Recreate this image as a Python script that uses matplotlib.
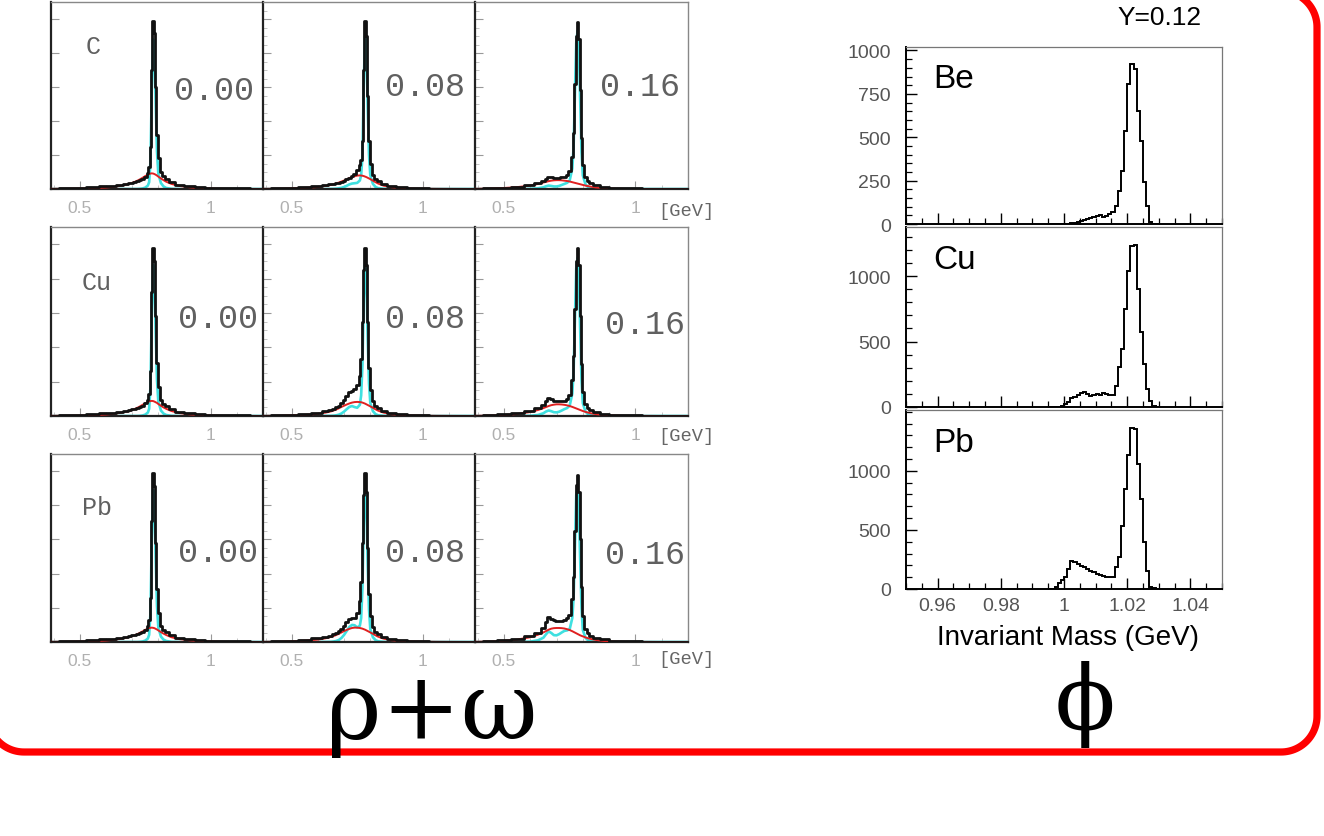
import matplotlib
matplotlib.use('Agg')
import matplotlib.pyplot as plt
from matplotlib.ticker import MultipleLocator
import numpy as np

W, H = 1324, 837

# ---- rho/omega panels: mass grid (GeV) and curves (arbitrary units, peak ~100)
mass = [0.39, 0.45, 0.50, 0.55, 0.60, 0.63, 0.65, 0.66, 0.67, 0.68, 0.69, 0.70, 0.71,
        0.72, 0.73, 0.74, 0.75, 0.76, 0.765, 0.77, 0.775, 0.78, 0.785, 0.79, 0.795,
        0.80, 0.81, 0.82, 0.83, 0.85, 0.88, 0.92, 0.96, 1.00, 1.05, 1.10, 1.20]

# Y = 0.00
C000_black = [0.2,0.4,0.7,1.0,1.5,1.9,2.3,2.5,2.8,3.1,3.4,3.8,4.2,4.7,5.3,6.0,7.2,9.5,13,25,70,99,92,60,32,18,10,7.5,5.8,4.0,2.6,1.5,1.0,0.6,0.4,0.3,0.2]
C000_red = [0.1,0.2,0.3,0.5,0.9,1.3,1.7,2.0,2.3,2.7,3.1,3.6,4.2,4.9,5.7,6.6,7.6,8.4,8.8,9.1,9.2,9.1,8.8,8.4,7.9,7.3,6.2,5.2,4.3,3.0,1.8,1.0,0.6,0.3,0.15,0.1,0.0]
C000_cyan = [0,0,0,0,0,0,0,0,0,0,0,0,0,0,0.1,0.3,0.8,2.0,4.0,16,58,88,82,50,22,9,3.5,1.5,0.6,0.1,0,0,0,0,0,0,0]

Cu000_black = [0.2,0.4,0.7,1.0,1.6,2.0,2.4,2.6,2.9,3.2,3.5,3.9,4.3,4.8,5.4,6.1,7.3,9.6,13,26,72,98,90,58,31,17,9.5,7.2,5.6,3.9,2.5,1.5,1.0,0.6,0.4,0.3,0.2]
Cu000_red = [0.1,0.2,0.3,0.5,0.9,1.3,1.7,2.0,2.3,2.6,3.0,3.5,4.1,4.8,5.6,6.5,7.4,8.1,8.5,8.7,8.8,8.7,8.4,8.0,7.6,7.0,6.0,5.0,4.2,2.9,1.7,1.0,0.6,0.3,0.15,0.1,0.0]
Cu000_cyan = [0,0,0,0,0,0,0,0,0,0,0,0,0,0,0.1,0.3,0.8,2.0,4.2,17,60,88,80,48,21,8.5,3.2,1.4,0.6,0.1,0,0,0,0,0,0,0]

Pb000_black = [0.2,0.4,0.7,1.0,1.6,2.0,2.4,2.6,2.9,3.2,3.5,3.9,4.3,4.8,5.4,6.1,7.2,9.4,13,26,71,99,91,58,31,17,9.5,7.2,5.6,3.9,2.5,1.5,1.0,0.6,0.4,0.3,0.2]
Pb000_red = [0.1,0.2,0.3,0.5,0.9,1.3,1.7,2.0,2.3,2.6,3.0,3.4,4.0,4.6,5.4,6.2,7.1,7.8,8.1,8.3,8.4,8.3,8.1,7.7,7.3,6.8,5.8,4.9,4.1,2.8,1.7,1.0,0.6,0.3,0.15,0.1,0.0]
Pb000_cyan = [0,0,0,0,0,0,0,0,0,0,0,0,0,0,0.1,0.3,0.8,2.0,4.2,17,60,89,81,48,21,8.5,3.2,1.4,0.6,0.1,0,0,0,0,0,0,0]

# Y = 0.08
C008_black = [0.2,0.4,0.7,1.1,1.7,2.2,2.7,3.0,3.4,3.8,4.3,4.9,5.6,6.5,7.6,9.0,11,14,17,28,70,99,90,55,28,15,8.5,6.0,4.5,3.0,1.8,1.0,0.6,0.4,0.25,0.2,0.1]
C008_red = [0.1,0.2,0.4,0.7,1.2,1.8,2.4,2.8,3.3,3.8,4.4,5.0,5.7,6.4,7.0,7.5,7.9,8.0,7.9,7.8,7.6,7.3,7.0,6.6,6.2,5.8,4.9,4.0,3.2,2.0,1.1,0.6,0.3,0.2,0.1,0.05,0.0]
C008_cyan = [0,0,0,0,0,0,0.05,0.1,0.2,0.4,0.7,1.2,1.9,2.7,3.2,3.4,3.6,5.0,8,20,62,90,82,48,20,8,3,1.2,0.5,0.1,0,0,0,0,0,0,0]

Cu008_black = [0.2,0.4,0.8,1.3,2.0,2.8,3.6,4.2,5.0,6.0,7.5,9.2,11.5,13.8,14.8,16.0,18,23,33,55,85,98,88,55,28,15,8.5,6.0,4.5,3.0,1.8,1.0,0.6,0.4,0.25,0.2,0.1]
Cu008_red = [0.1,0.2,0.4,0.7,1.3,2.0,2.7,3.2,3.8,4.5,5.3,6.0,6.7,7.3,7.8,8.1,8.2,8.1,8.0,7.8,7.5,7.2,6.8,6.4,6.0,5.6,4.8,3.9,3.1,2.0,1.1,0.6,0.3,0.2,0.1,0.05,0.0]
Cu008_cyan = [0,0,0,0,0,0.05,0.1,0.2,0.4,0.8,1.5,2.6,4.0,5.3,5.8,5.2,4.8,6.5,12,30,68,88,78,45,19,7.5,2.8,1.1,0.4,0.1,0,0,0,0,0,0,0]

Pb008_black = [0.2,0.4,0.8,1.3,2.1,2.9,3.8,4.4,5.2,6.3,7.8,9.5,11.8,13.3,13.8,14.3,17,24,35,58,86,99,88,55,28,15,8.5,6.0,4.5,3.0,1.8,1.0,0.6,0.4,0.25,0.2,0.1]
Pb008_red = [0.1,0.2,0.4,0.8,1.4,2.2,3.0,3.5,4.1,4.8,5.6,6.4,7.1,7.7,8.2,8.4,8.4,8.2,8.0,7.8,7.5,7.2,6.8,6.4,6.0,5.6,4.8,3.9,3.1,2.0,1.1,0.6,0.3,0.2,0.1,0.05,0.0]
Pb008_cyan = [0,0,0,0,0,0.05,0.1,0.3,0.6,1.2,2.4,4.2,6.5,8.8,10.0,9.8,8.5,9.5,14,32,70,90,78,45,19,7.5,2.8,1.1,0.4,0.1,0,0,0,0,0,0,0]

# Y = 0.16
C016_black = [0.2,0.4,0.8,1.4,2.5,3.7,5.0,6.0,7.0,6.8,6.6,6.5,6.6,6.8,7.2,8.2,10.5,19,33,62,90,98,88,58,30,14,7.0,4.8,3.6,2.4,1.4,0.8,0.5,0.3,0.2,0.1,0.1]
C016_red = [0.1,0.3,0.6,1.1,2.0,3.0,3.8,4.2,4.6,4.9,5.1,5.2,5.2,5.1,4.9,4.7,4.4,4.0,3.8,3.6,3.4,3.2,3.0,2.8,2.6,2.4,2.0,1.7,1.4,0.9,0.5,0.25,0.1,0.05,0,0,0]
C016_cyan = [0,0,0,0,0.1,0.4,1.0,1.6,2.0,1.8,1.5,1.5,1.8,2.4,3.0,3.6,5.0,12,25,56,86,93,82,52,22,8,2.8,1.1,0.4,0.1,0,0,0,0,0,0,0]

Cu016_black = [0.2,0.5,0.9,1.6,2.9,4.6,6.5,8.5,10.5,9.8,9.0,8.6,8.5,8.6,8.9,10.0,12.5,21,35,62,90,98,88,58,30,14,7.0,4.8,3.6,2.4,1.4,0.8,0.5,0.3,0.2,0.1,0.1]
Cu016_red = [0.1,0.3,0.6,1.2,2.3,3.5,4.6,5.2,5.8,6.3,6.6,6.8,6.8,6.7,6.5,6.2,5.8,5.3,5.0,4.7,4.4,4.1,3.8,3.5,3.2,2.9,2.4,2.0,1.6,1.1,0.6,0.3,0.15,0.1,0.05,0,0]
Cu016_cyan = [0,0,0,0,0.1,0.6,1.6,2.6,3.2,2.8,2.2,2.1,2.5,3.2,4.0,4.6,6.0,13,26,56,86,92,80,50,21,7.5,2.6,1.0,0.4,0.1,0,0,0,0,0,0,0]

Pb016_black = [0.2,0.5,1.0,1.8,3.4,5.5,8.0,11.5,14.5,13.5,12.6,12.0,12.0,12.2,12.6,14.0,16.0,25,38,65,92,98,88,60,32,15,7.5,5.0,3.8,2.5,1.5,0.8,0.5,0.3,0.2,0.1,0.1]
Pb016_red = [0.1,0.3,0.7,1.4,2.8,4.3,5.6,6.4,7.2,7.8,8.1,8.2,8.2,8.1,7.9,7.5,7.0,6.3,5.9,5.5,5.1,4.7,4.3,3.9,3.6,3.3,2.7,2.2,1.8,1.2,0.6,0.3,0.15,0.1,0.05,0,0]
Pb016_cyan = [0,0,0,0,0.2,1.0,2.5,4.5,6.2,5.3,4.0,3.9,4.6,5.6,6.5,6.8,7.5,14,26,55,86,90,78,48,20,7.0,2.5,1.0,0.4,0.1,0,0,0,0,0,0,0]

targets = ['C', 'Cu', 'Pb']
rapidity = ['0.00', '0.08', '0.16']

# ---- phi panels: 1 MeV bins starting at 0.995 GeV, counts per bin
phi_start = 0.995
Be_counts = [0,0,0,0,0,0,0, 5,8,12,18,22,28,33,38,44,53,40,48,57,67,105,192,307,538,808,923,895,654,481,240,105,10,0,0]
Cu_counts = [0,0,0,0, 5,20,40,65,80,95,110,112,100,86,90,99,95,107,100,92,95,163,305,443,748,1040,1231,1235,901,570,328,137,48,5,0]
Pb_counts = [0,3,20,50,76,105,170,240,232,215,198,184,170,155,140,127,118,110,103,100,99,184,268,537,848,1130,1365,1356,1060,763,396,155,20,5,0]
phi_labels = ['Be', 'Cu', 'Pb']
phi_ymax = [1020, 1375, 1515]


def rect(x0, y0, x1, y1):
    return [x0 / W, 1 - y1 / H, (x1 - x0) / W, (y1 - y0) / H]


def ftext(x, y, s, **kw):
    fig.text(x / W, 1 - y / H, s, **kw)


fig = plt.figure(figsize=(W / 100, H / 100), dpi=100)

# background axes in pixel units for the red rounded frame
bg = fig.add_axes([0, 0, 1, 1], zorder=-1)
bg.set_xlim(0, W)
bg.set_ylim(H, 0)
bg.axis('off')
R = 36
xl, xr, yt, yb = -12, 1317, -8, 753
t = np.linspace(0, np.pi / 2, 30)
fx = np.concatenate([[xl], xl + R - R * np.cos(t), xr - R + R * np.sin(t),
                     xr - R + R * np.cos(t), [xl]])
fy = np.concatenate([[yt], yb - R + R * np.sin(t), yb - R + R * np.cos(t),
                     yt + R - R * np.sin(t), [yt]])
bg.plot(fx, fy, color='#ff0000', lw=5.2, solid_joinstyle='round', clip_on=False)

col_x = [(51, 263), (263, 475), (475, 688)]
row_y = [(3, 190), (228, 417), (455, 643)]
data = globals()

for r, tgt in enumerate(targets):
    for c, yv in enumerate(rapidity):
        key = tgt + yv.replace('.', '')
        ax = fig.add_axes(rect(col_x[c][0], row_y[r][0], col_x[c][1], row_y[r][1]))
        ax.plot(mass, data[key + '_cyan'], color='#3fe0e0', lw=1.9, zorder=2)
        ax.plot(mass, data[key + '_red'], color='#e02020', lw=1.4, zorder=3)
        ax.plot(mass, data[key + '_black'], color='#111111', lw=2.0,
                drawstyle='steps-mid', zorder=4)
        ax.set_xlim(0.39, 1.2)
        ax.set_ylim(0, 110)
        ax.set_xticks([0.5, 1.0])
        ax.set_xticklabels(['0.5', '1'], fontfamily='Liberation Sans')
        ax.xaxis.set_minor_locator(MultipleLocator(0.1))
        ax.yaxis.set_major_locator(MultipleLocator(20))
        if c > 0:
            ax.yaxis.set_minor_locator(MultipleLocator(5))
        ax.set_yticklabels([])
        ax.tick_params(axis='both', which='major', direction='in', length=6,
                       width=0.8, color='#999999', labelcolor='#b0b0b0',
                       labelsize=12.5, pad=8)
        ax.tick_params(axis='both', which='minor', direction='in', length=3,
                       width=0.6, color='#bbbbbb')
        for s in ['left', 'bottom']:
            ax.spines[s].set_color('#222222')
            ax.spines[s].set_linewidth(1.6)
        for s in ['top', 'right']:
            ax.spines[s].set_color('#888888')
            ax.spines[s].set_linewidth(1.0)

# target and rapidity labels (monospace like the original)
lab_pos = [(93, 47), (97, 283), (97, 508)]
for r, tgt in enumerate(targets):
    ftext(lab_pos[r][0], lab_pos[r][1], tgt, fontfamily='Liberation Mono',
          fontsize=18, color='#606060', ha='center', va='center')
yv_pos = [[(214, 92), (425, 87), (640, 87)],
          [(218, 320), (425, 320), (645, 326)],
          [(218, 553), (425, 553), (645, 555)]]
for r in range(3):
    for c, yv in enumerate(rapidity):
        ftext(yv_pos[r][c][0], yv_pos[r][c][1], yv, fontfamily='Liberation Mono',
              fontsize=24, color='#606060', ha='center', va='center')
    ftext(686, [212, 437, 660][r], '[GeV]', fontfamily='Liberation Mono',
          fontsize=13.5, color='#666666', ha='center', va='center')

# ---- phi panels
phi_rows = [(48, 225), (228, 408), (411, 590)]
phi_data = [Be_counts, Cu_counts, Pb_counts]
for i, counts in enumerate(phi_data):
    ax = fig.add_axes(rect(906, phi_rows[i][0], 1222, phi_rows[i][1]))
    edges = phi_start + 0.001 * np.arange(len(counts) + 1)
    ax.stairs(counts, edges, color='black', lw=1.4)
    ax.set_xlim(0.95, 1.05)
    ax.set_ylim(0, phi_ymax[i])
    ax.set_xticks([0.96, 0.98, 1.0, 1.02, 1.04])
    ax.xaxis.set_minor_locator(MultipleLocator(0.005))
    if i == 0:
        ax.set_yticks([0, 250, 500, 750, 1000])
        ax.yaxis.set_minor_locator(MultipleLocator(50))
    else:
        ax.set_yticks([0, 500, 1000])
        ax.yaxis.set_minor_locator(MultipleLocator(100))
    if i == 2:
        ax.set_xticklabels(['0.96', '0.98', '1', '1.02', '1.04'])
    else:
        ax.set_xticklabels([])
    for lab in ax.get_xticklabels() + ax.get_yticklabels():
        lab.set_fontfamily('Liberation Sans')
    ax.tick_params(axis='both', which='major', direction='in', length=8,
                   width=1.0, color='black', labelcolor='#555555',
                   labelsize=14)
    ax.tick_params(axis='y', which='major', pad=11)
    ax.tick_params(axis='x', which='major', pad=6)
    ax.tick_params(axis='both', which='minor', direction='in', length=4,
                   width=0.9, color='black')
    for s in ['left', 'bottom']:
        ax.spines[s].set_color('black')
        ax.spines[s].set_linewidth(1.4)
    for s in ['top', 'right']:
        ax.spines[s].set_color('#777777')
        ax.spines[s].set_linewidth(0.9)
    ax.text(0.085, 0.82, phi_labels[i], transform=ax.transAxes,
            fontfamily='Liberation Sans', fontsize=24, color='black',
            ha='left', va='center')

ftext(1160, 18, 'Y=0.12', fontfamily='Liberation Sans', fontsize=19,
      color='black', ha='center', va='center')
ftext(1068, 638, 'Invariant Mass (GeV)', fontfamily='Liberation Sans',
      fontsize=20, color='black', ha='center', va='center')

# big particle symbols
ftext(432, 739, 'ρ+ω', fontfamily='DejaVu Serif', fontsize=68,
      color='black', ha='center', va='baseline')
ftext(1085, 729, 'ϕ', fontfamily='DejaVu Serif', fontsize=64,
      color='black', ha='center', va='baseline')

fig.savefig('out.png', dpi=100)
